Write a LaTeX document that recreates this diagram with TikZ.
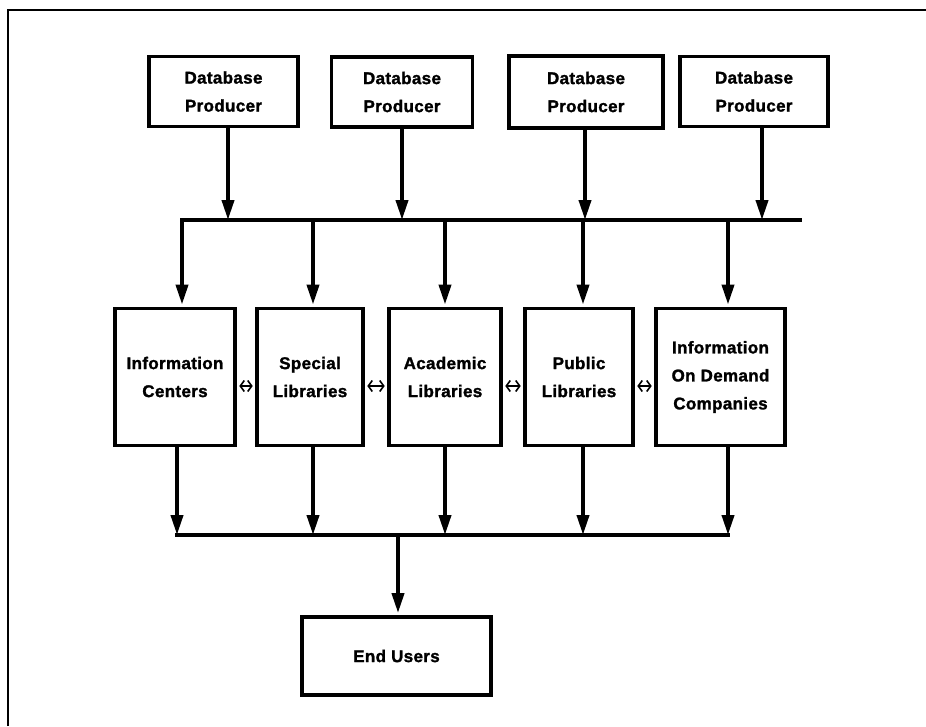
\documentclass[tikz,border=0pt]{standalone}
\usepackage{fontspec}
\setmainfont[LetterSpace=2, BoldFeatures={FakeBold=1.5}]{Liberation Sans}
\usetikzlibrary{arrows.meta}
\begin{document}
\begin{tikzpicture}[x=1pt,y=-1pt,
  box/.style={draw, line width=3.8pt, align=center, inner sep=0pt,
    font=\fontsize{17}{28}\selectfont\bfseries},
  arr/.style={line width=3.8pt, -{Triangle[length=20pt,width=12pt]}},
  bus/.style={line width=3.8pt},
  dbl/.style={line width=1.6pt,
    {Straight Barb[length=4pt,width=11pt]}-{Straight Barb[length=4pt,width=11pt]},
    shorten <=0.5pt, shorten >=0.5pt},
  frame/.style={line width=1.5pt}]
\useasboundingbox (0,0) rectangle (926,726);

% outer frame (top and left edges visible)
\draw[frame] (8,726) -- (8,10) -- (926,10);

% producers
\node[box, minimum width=149pt, minimum height=70pt] (p1) at (223.5,91.5) {Database\\Producer};
\node[box, minimum width=141pt, minimum height=70pt] (p2) at (402,92) {Database\\Producer};
\node[box, minimum width=154pt, minimum height=72pt] (p3) at (586,92) {Database\\Producer};
\node[box, minimum width=148pt, minimum height=70pt] (p4) at (754,91.5) {Database\\Producer};

% top bus
\coordinate (tbL) at (180,220);
\coordinate (tbR) at (802,220);
\draw[bus] (tbL) -- (tbR);
\foreach \p/\x in {p1/228,p2/402,p3/585,p4/762}{
  \draw[arr] (\x,0 |- \p.south) -- (\x,220);
}

% middle boxes
\node[box, minimum width=120pt, minimum height=137pt] (m1) at (175,377) {Information\\Centers};
\node[box, minimum width=106pt, minimum height=137pt] (m2) at (310,377) {Special\\Libraries};
\node[box, minimum width=112pt, minimum height=137pt] (m3) at (445,377) {Academic\\Libraries};
\node[box, minimum width=108pt, minimum height=137pt] (m4) at (579,377) {Public\\Libraries};
\node[box, minimum width=129pt, minimum height=137pt] (m5) at (720.5,377) {Information\\On Demand\\Companies};

% drops from top bus
\foreach \m/\x in {m1/182,m2/313,m3/445,m4/583,m5/728}{
  \coordinate (d\m) at (\x,220);
  \draw[arr, shorten >=2pt] (d\m) -- (d\m |- \m.north);
}

% double arrows between boxes
\draw[dbl] ([xshift=1.9pt,yshift=-9pt]m1.east) -- ([xshift=-1.9pt,yshift=-9pt]m2.west);
\draw[dbl] ([xshift=1.9pt,yshift=-9pt]m2.east) -- ([xshift=-1.9pt,yshift=-9pt]m3.west);
\draw[dbl] ([xshift=1.9pt,yshift=-9pt]m3.east) -- ([xshift=-1.9pt,yshift=-9pt]m4.west);
\draw[dbl] ([xshift=1.9pt,yshift=-9pt]m4.east) -- ([xshift=-1.9pt,yshift=-9pt]m5.west);

% bottom bus
\coordinate (bbL) at (175,535);
\coordinate (bbR) at (730,535);
\draw[bus] (bbL) -- (bbR);
\foreach \m/\x in {m1/177,m2/313,m3/445,m4/583,m5/728}{
  \coordinate (u\m) at (\x,535);
  \draw[arr] (u\m |- \m.south) -- (u\m);
}

% end users
\node[box, minimum width=189pt, minimum height=78pt] (eu) at (396.5,656) {End Users};
\coordinate (eb) at (398,535);
\draw[arr, shorten >=2pt] (eb) -- (eb |- eu.north);
\end{tikzpicture}
\end{document}
